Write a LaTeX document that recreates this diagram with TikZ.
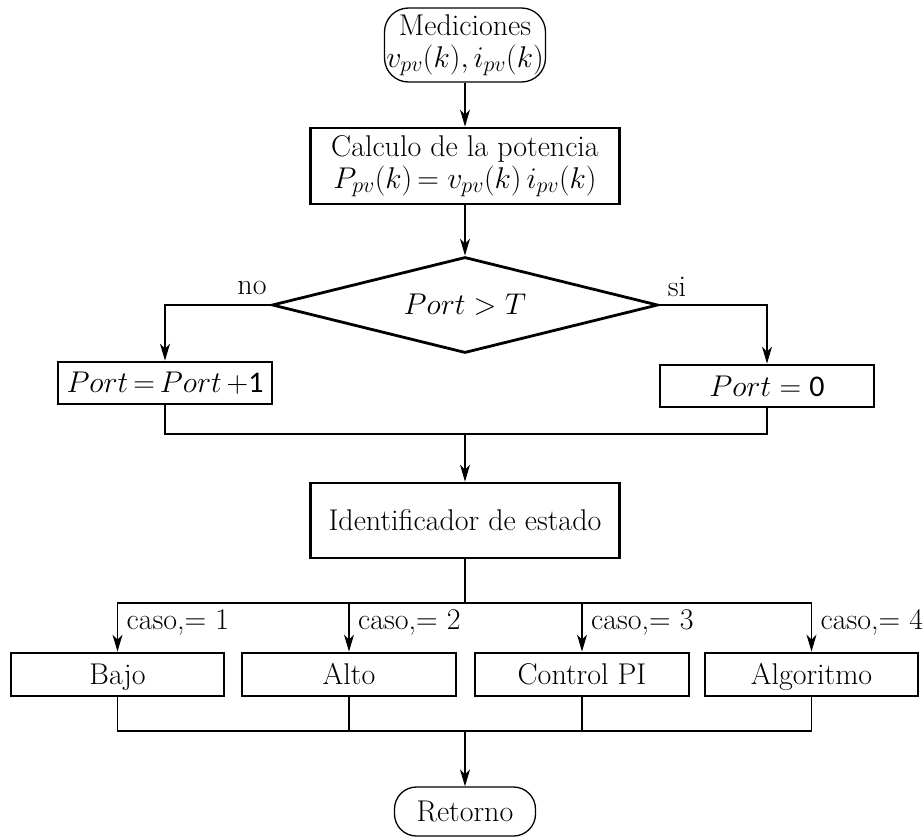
\RequirePackage{fix-cm}
\documentclass[tikz,border=0pt]{standalone}
\usepackage{fontspec}
\newfontfamily\digfont{Carlito}
\DeclareMathSizes{30}{30}{22}{16}
\usetikzlibrary{arrows.meta,shapes.geometric}
\begin{document}
\begin{tikzpicture}[x=1pt,y=-1pt,
  every node/.style={font=\fontsize{30}{32}\selectfont, inner sep=0pt},
  thin line/.style={line width=1.3pt},
  term/.style={draw, thin line, rounded corners=24pt, align=center},
  proc/.style={draw, line width=2.8pt, align=center},
  caseproc/.style={proc, minimum height=43pt, text height=20.5pt, text depth=0pt},
  arr/.style={thin line, -{Stealth[length=17pt,width=10pt,inset=5pt]}},
  lbl/.style={anchor=west}
]
\useasboundingbox (0,0) rectangle (922,838);

\node[term, minimum width=161pt, minimum height=74pt] (start) at (465,45) {Mediciones\\$v_{pv}(k),i_{pv}(k)$};
\node[proc, minimum width=309pt, minimum height=76pt] (calc) at (465,166) {Calculo de la potencia\\$P_{pv}(k)\,{=}\;v_{pv}(k)\,i_{pv}(k)$};
\node[draw, line width=2.8pt, shape=diamond, minimum width=386pt, minimum height=96pt, aspect=4] (dia) at (465,305) {$Port > T$};
\node[proc, minimum width=214pt, minimum height=42pt] (port1) at (165,383) {$Port\,{=}\,Port\,{+}\mbox{\digfont 1}$};
\node[proc, minimum width=214pt, minimum height=42pt] (port0) at (767,386) {$Port\;{=}\;\mbox{\digfont 0}$};
\node (no) at (252,288) {no};
\node (si) at (677,287) {si};
\coordinate (j1) at (465,434);
\node[proc, minimum width=309pt, minimum height=75pt] (ident) at (465,520.5) {Identificador de estado};
\coordinate (j2) at (465,603);
\node[caseproc, minimum width=213pt] (bajo) at (117.5,674.5) {Bajo};
\node[caseproc, minimum width=214pt] (alto) at (349,674.5) {Alto};
\node[caseproc, minimum width=214pt] (ctrl) at (582,674.5) {Control PI};
\node[caseproc, minimum width=213pt] (algo) at (811.5,674.5) {Algoritmo};
\coordinate (j3) at (465,731);
\node[term, minimum width=141pt, minimum height=49pt, rounded corners=22pt, text height=20.5pt, text depth=0pt] (ret) at (465,811.5) {Retorno};

\node[lbl] (c1) at ([xshift=9pt,yshift=29pt]bajo.north) {caso,= 1};
\node[lbl] (c2) at ([xshift=9pt,yshift=29pt]alto.north) {caso,= 2};
\node[lbl] (c3) at ([xshift=9pt,yshift=29pt]ctrl.north) {caso,= 3};
\node[lbl] (c4) at ([xshift=9pt,yshift=29pt]algo.north) {caso,= 4};

\draw[arr] (start) -- (calc);
\draw[arr] (calc) -- (dia);
\draw[arr] (dia.west) -| (port1.north);
\draw[arr] (dia.east) -| (port0.north);
\draw[thin line] (port1.south) |- (j1) -| (port0.south);
\draw[arr] (j1) -- (ident.north);
\draw[thin line] (ident.south) -- (j2);
\draw[arr] (j2) -| (bajo.north);
\draw[arr] (j2) -| (alto.north);
\draw[arr] (j2) -| (ctrl.north);
\draw[arr] (j2) -| (algo.north);
\draw[thin line] (bajo.south) |- (j3);
\draw[thin line] (alto.south) |- (j3);
\draw[thin line] (ctrl.south) |- (j3);
\draw[thin line] (algo.south) |- (j3);
\draw[arr] (j3) -- (ret.north);
\end{tikzpicture}
\end{document}
